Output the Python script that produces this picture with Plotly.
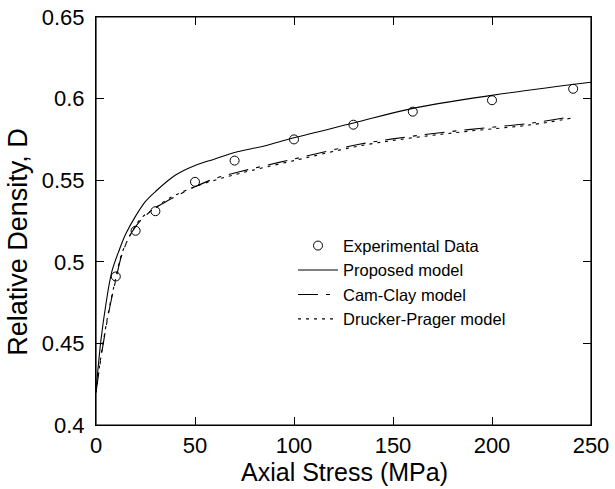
import plotly.graph_objects as go

exp_x = [10, 20, 30, 50, 70, 100, 130, 160, 200, 241]
exp_y = [0.491, 0.519, 0.531, 0.549, 0.562, 0.575, 0.584, 0.592, 0.599, 0.606]

prop_x = [0, 2.5, 5, 8, 12, 15, 20, 25, 30, 40, 50, 60, 70, 85, 100, 130, 160, 200, 250]
prop_y = [0.421, 0.452, 0.474, 0.494, 0.508, 0.517, 0.528, 0.537, 0.543, 0.553, 0.559, 0.563,
          0.567, 0.571, 0.576, 0.585, 0.594, 0.602, 0.610]

cc_x = [0, 3, 6.6, 10, 13, 18, 23, 30, 37, 50, 60, 72, 100, 133, 160, 188, 220, 240]
cc_y = [0.420, 0.445, 0.470, 0.489, 0.504, 0.518, 0.526, 0.533, 0.538, 0.546, 0.551, 0.555,
        0.563, 0.572, 0.577, 0.581, 0.585, 0.589]

dp_x = [0, 3, 6.6, 10, 13, 18, 23, 30, 37, 50, 60, 72, 100, 133, 160, 188, 220, 240]
dp_y = [0.420, 0.446, 0.471, 0.490, 0.505, 0.518, 0.527, 0.533, 0.539, 0.546, 0.550, 0.554,
        0.562, 0.571, 0.576, 0.580, 0.584, 0.588]

x_ticks = [0, 50, 100, 150, 200, 250]
y_ticks = [0.4, 0.45, 0.5, 0.55, 0.6, 0.65]
y_ticktext = ["0.4", "0.45", "0.5", "0.55", "0.6", "0.65"]

fig = go.Figure()
fig.add_trace(go.Scatter(x=exp_x, y=exp_y, mode="markers", name="Experimental Data",
                         marker=dict(symbol="circle-open", size=9, color="black", line=dict(width=1))))
fig.add_trace(go.Scatter(x=prop_x, y=prop_y, mode="lines", name="Proposed model",
                         line=dict(color="black", width=1.1, shape="spline")))
fig.add_trace(go.Scatter(x=cc_x, y=cc_y, mode="lines", name="Cam-Clay model",
                         line=dict(color="black", width=1.1, dash="20px,8px,4px,8px", shape="spline")))
fig.add_trace(go.Scatter(x=dp_x, y=dp_y, mode="lines", name="Drucker-Prager model",
                         line=dict(color="black", width=1.1, dash="3px,5px", shape="spline")))

axis_common = dict(showline=True, linecolor="black", linewidth=1.2, mirror="allticks",
                   ticks="inside", ticklen=8, tickcolor="black", showgrid=False, zeroline=False,
                   automargin=False, ticklabeloverflow="allow",
                   tickfont=dict(family="Liberation Sans, Arial", size=22, color="black"))

fig.update_layout(
    width=615, height=489,
    margin=dict(l=96, r=24, t=17, b=64),
    plot_bgcolor="white", paper_bgcolor="white",
    font=dict(family="Liberation Sans, Arial", color="black"),
    xaxis=dict(range=[0, 250], tickvals=x_ticks, ticklabelstandoff=0, **axis_common),
    yaxis=dict(range=[0.4, 0.65], tickvals=y_ticks, ticktext=y_ticktext,
               ticklabelstandoff=6, **axis_common),
    legend=dict(x=0.398, y=0.482, xanchor="left", yanchor="top", bgcolor="rgba(0,0,0,0)",
                font=dict(size=16.5, color="black"), tracegroupgap=0, itemwidth=40),
    showlegend=True,
    shapes=[dict(type="rect", xref="paper", yref="paper", x0=0, x1=1, y0=0, y1=1,
                 line=dict(color="black", width=1.2), fillcolor="rgba(0,0,0,0)")],
    annotations=[
        dict(text="Axial Stress (MPa)", xref="paper", yref="paper", x=0.503, y=-0.116,
             xanchor="center", yanchor="middle", showarrow=False, font=dict(size=25)),
        dict(text="Relative Density, D", xref="paper", yref="paper", x=-0.1576, y=0.449,
             xanchor="center", yanchor="middle", textangle=-90, showarrow=False, font=dict(size=27)),
    ],
)

fig.write_html("out.html", config={"displayModeBar": False},
               post_script="document.body.style.margin='0px';")
